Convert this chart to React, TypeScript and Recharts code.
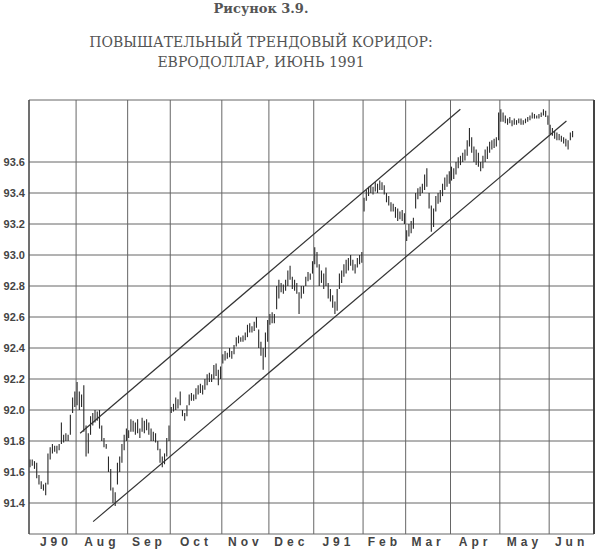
import React from 'react';
import { ComposedChart, Bar, XAxis, YAxis, CartesianGrid, ReferenceLine } from 'recharts';

// Daily [high, low] bars, one array per month (trading days)
const jul90 = [[91.68,91.63],[91.68,91.64],[91.67,91.62],[91.66,91.56],[91.58,91.52],[91.54,91.49],[91.52,91.48],[91.53,91.45],[91.72,91.52],[91.76,91.68],[91.78,91.72],[91.77,91.73],[91.77,91.72],[91.78,91.74],[91.92,91.78],[91.84,91.79],[91.85,91.80],[91.84,91.80],[91.97,91.84],[92.08,91.98],[92.12,92.02]];
const aug90 = [[92.18,92.03],[92.12,92.00],[92.10,92.02],[92.16,91.86],[91.90,91.70],[91.85,91.72],[91.96,91.84],[91.98,91.90],[92.00,91.92],[91.99,91.93],[92.00,91.88],[91.90,91.80],[91.82,91.76],[91.78,91.75],[91.70,91.60],[91.62,91.48],[91.50,91.40],[91.47,91.38],[91.66,91.52],[91.70,91.60],[91.78,91.66],[91.84,91.74],[91.88,91.80]];
const sep90 = [[91.87,91.82],[91.94,91.86],[91.93,91.86],[91.92,91.84],[91.94,91.85],[91.88,91.82],[91.95,91.86],[91.93,91.85],[91.94,91.87],[91.92,91.84],[91.88,91.80],[91.86,91.80],[91.85,91.79],[91.80,91.74],[91.75,91.66],[91.70,91.63],[91.72,91.65],[91.82,91.70],[91.90,91.80]];
const oct90 = [[92.02,91.98],[92.04,91.99],[92.08,92.00],[92.07,92.01],[92.12,92.03],[92.00,91.96],[91.98,91.93],[92.03,91.96],[92.10,92.03],[92.11,92.06],[92.10,92.06],[92.14,92.07],[92.16,92.10],[92.17,92.11],[92.16,92.10],[92.20,92.13],[92.23,92.16],[92.24,92.18],[92.23,92.18],[92.29,92.20],[92.30,92.22],[92.26,92.16],[92.28,92.20]];
const nov90 = [[92.36,92.30],[92.38,92.32],[92.37,92.33],[92.40,92.34],[92.38,92.33],[92.42,92.36],[92.47,92.41],[92.48,92.43],[92.47,92.44],[92.48,92.44],[92.50,92.45],[92.55,92.47],[92.56,92.50],[92.54,92.50],[92.57,92.51],[92.60,92.53],[92.52,92.40],[92.44,92.35],[92.40,92.26],[92.50,92.34],[92.58,92.44]];
const dec90 = [[92.62,92.55],[92.63,92.56],[92.62,92.56],[92.80,92.65],[92.84,92.72],[92.82,92.76],[92.81,92.75],[92.84,92.77],[92.90,92.80],[92.93,92.84],[92.86,92.78],[92.84,92.77],[92.82,92.75],[92.76,92.62],[92.80,92.72],[92.80,92.75],[92.86,92.80],[92.89,92.83],[92.88,92.84],[92.96,92.88]];
const jan91 = [[93.05,92.94],[93.02,92.92],[92.94,92.80],[92.90,92.82],[92.88,92.78],[92.92,92.80],[92.82,92.72],[92.78,92.70],[92.74,92.66],[92.70,92.62],[92.78,92.64],[92.88,92.78],[92.90,92.82],[92.94,92.86],[92.97,92.88],[92.98,92.90],[93.00,92.93],[92.97,92.90],[92.94,92.88],[92.98,92.92],[93.00,92.94],[93.02,92.95]];
const feb91 = [[93.37,93.28],[93.42,93.35],[93.44,93.38],[93.45,93.40],[93.44,93.39],[93.47,93.41],[93.46,93.40],[93.48,93.42],[93.47,93.42],[93.45,93.39],[93.40,93.34],[93.38,93.32],[93.34,93.28],[93.33,93.28],[93.31,93.24],[93.30,93.22],[93.28,93.23],[93.29,93.22],[93.27,93.20]];
const mar91 = [[93.16,93.09],[93.20,93.12],[93.22,93.14],[93.24,93.17],[93.40,93.30],[93.43,93.36],[93.44,93.38],[93.46,93.40],[93.52,93.42],[93.56,93.44],[93.40,93.30],[93.32,93.15],[93.30,93.18],[93.38,93.28],[93.40,93.33],[93.42,93.34],[93.46,93.38],[93.50,93.42],[93.52,93.44],[93.54,93.46]];
const apr91 = [[93.57,93.48],[93.56,93.49],[93.60,93.52],[93.63,93.56],[93.64,93.58],[93.66,93.60],[93.68,93.61],[93.74,93.64],[93.82,93.70],[93.76,93.66],[93.70,93.60],[93.68,93.58],[93.66,93.57],[93.60,93.54],[93.64,93.56],[93.68,93.60],[93.70,93.62],[93.73,93.66],[93.74,93.68],[93.75,93.69],[93.76,93.70],[93.92,93.74]];
const may91 = [[93.94,93.86],[93.92,93.86],[93.90,93.85],[93.88,93.84],[93.89,93.85],[93.87,93.83],[93.88,93.84],[93.87,93.84],[93.88,93.85],[93.88,93.84],[93.87,93.84],[93.88,93.85],[93.89,93.86],[93.90,93.87],[93.92,93.88],[93.91,93.88],[93.90,93.88],[93.91,93.88],[93.92,93.89],[93.94,93.90],[93.93,93.89],[93.90,93.84]];
const jun91 = [[93.84,93.78],[93.82,93.77],[93.80,93.75],[93.79,93.74],[93.78,93.74],[93.77,93.73],[93.76,93.72],[93.75,93.70],[93.74,93.68],[93.79,93.74],[93.80,93.76]];

// Axis definitions (trading-day index)
const monthLabels = ['J90','Aug','Sep','Oct','Nov','Dec','J91','Feb','Mar','Apr','May','Jun'];
const monthLabelPos = [12,32.5,53.5,74.5,96.5,117,138,158.5,178,199,221,242];
const monthStarts = [0,21,44,63,86,107,127,149,168,188,210,232,252];
const weekStarts = [0,4,9,14,19,24,29,34,39,44,48,53,58,63,68,73,78,83,88,93,98,102,107,112,117,122,126,130,135,140,145,150,155,160,164,169,174,179,184,188,193,198,203,208,213,218,223,228,232,237,242,247,252];
const priceTicks = [91.4,91.6,91.8,92.0,92.2,92.4,92.6,92.8,93.0,93.2,93.4,93.6,94.0];
const priceLabels = ['91.4','91.6','91.8','92.0','92.2','92.4','92.6','92.8','93.0','93.2','93.4','93.6',''];

// Trend channel lines: [day, price]
const upperChannel = [[22.8,91.85],[192.4,93.94]];
const lowerChannel = [[28.6,91.28],[239.7,93.865]];

const allBars = [...jul90,...aug90,...sep90,...oct90,...nov90,...dec90,...jan91,...feb91,...mar91,...apr91,...may91,...jun91];
const data = allBars.map((hl, i) => ({ x: i + 0.5, range: [hl[1], hl[0]] }));

const HLBar = (props: any) => {
  const { x, y, width, height } = props;
  if (x == null || y == null || isNaN(y) || isNaN(height)) return null;
  const cx = x + width / 2;
  const top = Math.min(y, y + height);
  const bot = Math.max(y, y + height, top + 1);
  return <line x1={cx} x2={cx} y1={top} y2={bot} stroke="#2a2a2a" strokeWidth={1.1} />;
};

const labelTick = (props: any) => {
  const { x, y, payload } = props;
  const idx = monthLabelPos.indexOf(payload.value);
  return (
    <text x={x} y={y} dy={8} textAnchor="middle" fontFamily="Liberation Sans, Arial, sans-serif" fontWeight="bold" fontSize={12} letterSpacing={4} fill="#444">
      {idx >= 0 ? monthLabels[idx] : ''}
    </text>
  );
};

const priceTick = (props: any) => {
  const { x, y, payload } = props;
  const idx = priceTicks.indexOf(payload.value);
  return (
    <text x={x} y={y} dy={4} textAnchor="end" fontFamily="Liberation Sans, Arial, sans-serif" fontWeight="bold" fontSize={11} fill="#444">
      {idx >= 0 ? priceLabels[idx] : ''}
    </text>
  );
};

const emptyTick = () => '';

export default function App() {
  return (
    <div style={{ position: 'absolute', left: 0, top: 0, width: 600, height: 551, background: '#fff', overflow: 'hidden' }}>
      <svg width={600} height={100} style={{ position: 'absolute', left: 0, top: 0 }}>
        <text x={261} y={13} textAnchor="middle" fontFamily="DejaVu Serif, serif" fontWeight="bold" fontSize={13} fill="#555">Рисунок 3.9.</text>
        <text x={261} y={47} textAnchor="middle" fontFamily="DejaVu Serif, serif" fontSize={14} fill="#555">ПОВЫШАТЕЛЬНЫЙ ТРЕНДОВЫЙ КОРИДОР:</text>
        <text x={261} y={67} textAnchor="middle" fontFamily="DejaVu Serif, serif" fontSize={14} fill="#555">ЕВРОДОЛЛАР, ИЮНЬ 1991</text>
      </svg>
      <div style={{ position: 'absolute', left: 0, top: 0 }}>
        <ComposedChart width={600} height={551} data={data} margin={{ top: 100, right: 6, bottom: 0, left: 0 }}>
          <CartesianGrid xAxisId="m" stroke="#666" strokeWidth={1} />
          <XAxis xAxisId="m" dataKey="x" type="number" domain={[0, 252]} ticks={monthStarts} interval={0} tickFormatter={emptyTick} tickLine={false} axisLine={false} height={0} allowDataOverflow />
          <XAxis xAxisId="w" dataKey="x" type="number" domain={[0, 252]} ticks={weekStarts} interval={0} tickFormatter={emptyTick} tickSize={3} tickLine={{ stroke: '#444' }} axisLine={{ stroke: '#444', strokeWidth: 1.2 }} height={0} allowDataOverflow />
          <XAxis xAxisId="l" dataKey="x" type="number" domain={[0, 252]} ticks={monthLabelPos} interval={0} tick={labelTick} tickLine={false} axisLine={false} tickSize={4} tickMargin={0} height={17} allowDataOverflow />
          <YAxis type="number" domain={[91.2, 94.0]} ticks={priceTicks} interval={0} width={29} tickLine={false} tickSize={4} tickMargin={0}
            axisLine={{ stroke: '#444', strokeWidth: 1.2 }} tick={priceTick} />
          <ReferenceLine xAxisId="m" x={252} stroke="#444" strokeWidth={2} />
          <Bar xAxisId="m" dataKey="range" barSize={2} shape={HLBar} isAnimationActive={false} />
          <ReferenceLine xAxisId="m" segment={[{ x: upperChannel[0][0], y: upperChannel[0][1] }, { x: upperChannel[1][0], y: upperChannel[1][1] }]} stroke="#333" strokeWidth={1.2} ifOverflow="visible" />
          <ReferenceLine xAxisId="m" segment={[{ x: lowerChannel[0][0], y: lowerChannel[0][1] }, { x: lowerChannel[1][0], y: lowerChannel[1][1] }]} stroke="#333" strokeWidth={1.2} ifOverflow="visible" />
        </ComposedChart>
      </div>
    </div>
  );
}
